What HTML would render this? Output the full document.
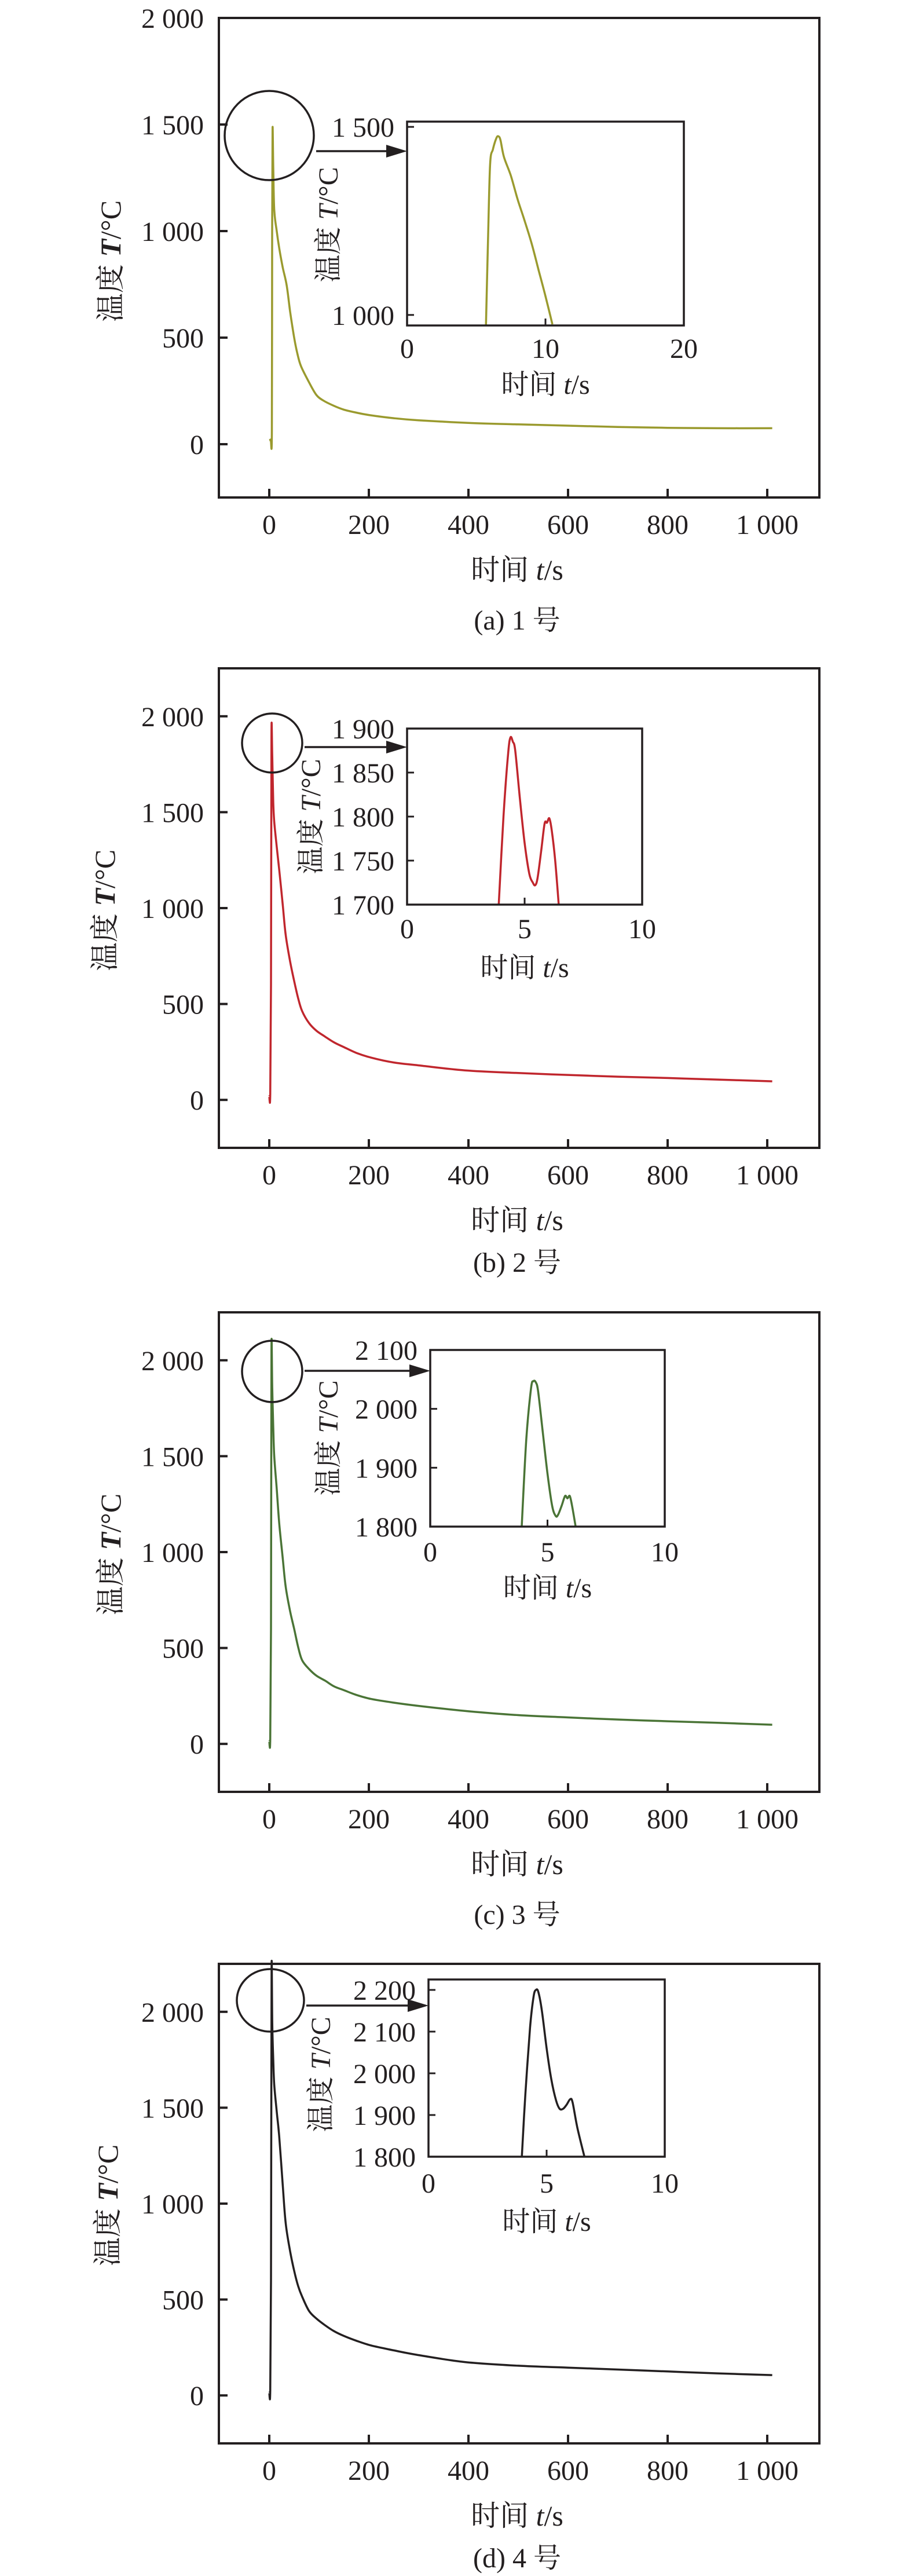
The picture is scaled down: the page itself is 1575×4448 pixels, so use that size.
<!DOCTYPE html>
<html><head><meta charset="utf-8">
<style>
html,body{margin:0;padding:0;background:#fff;}
svg{display:block;}
text{font-family:"Liberation Serif","Noto Serif CJK SC",serif;fill:#231f20;}
</style></head>
<body>
<svg id="fig" width="1575" height="4448" viewBox="0 0 1575 4448" xmlns="http://www.w3.org/2000/svg"></svg>
<script>
// ---------- data ----------
const mainTicksX = [0,200,400,600,800,1000];
const mainTickLabelsX = ["0","200","400","600","800","1 000"];
const mainTicksY = [0,500,1000,1500,2000];
const mainTickLabelsY = ["0","500","1 000","1 500","2 000"];

const aTime = [0,3,5.2,5.8,6.6,8,10,15,20,27,35,42,50,57,64,80,95,110,130,150,175,200,250,300,400,500,600,700,800,900,1010];
const aTemp = [20,22,60,1000,1480,1300,1100,1000,920,830,745,620,500,420,365,290,230,203,180,162,148,137,122,112,100,93,87,81,77,75,75];
const aInsetTime = [5.7,5.85,6.0,6.2,6.45,6.6,6.75,7.0,7.5,8.0,8.5,9.0,9.5,10.0,10.5];
const aInsetTemp = [970,1200,1400,1440,1470,1475,1465,1420,1370,1306,1250,1190,1120,1050,975];
const aInsetTicksX = [0,10,20];
const aInsetTicksY = [1000,1500];
const aInsetTickLabelsY = ["1 000","1 500"];

const bTime = [0,2,3.5,4.4,6,8,10,15,20,27,33,42,50,58,66,80,95,112,130,150,175,205,250,300,393,500,600,700,800,900,1010];
const bTemp = [20,30,600,1890,1790,1550,1450,1320,1200,1020,860,720,620,530,463,400,360,330,300,275,245,220,195,180,154,140,130,121,114,106,97];
const bInsetTime = [3.9,4.1,4.3,4.4,4.5,4.6,4.8,5.0,5.2,5.35,5.45,5.55,5.7,5.85,5.95,6.05,6.15,6.3,6.45];
const bInsetTemp = [1700,1800,1872,1890,1885,1875,1820,1770,1735,1725,1722,1730,1760,1792,1793,1798,1785,1750,1700];
const bInsetTicksX = [0,5,10];
const bInsetTicksY = [1700,1750,1800,1850,1900];
const bInsetTickLabelsY = ["1 700","1 750","1 800","1 850","1 900"];

const cTime = [0,2,3.5,4.4,6,8,10,15,20,27,33,42,50,58,66,80,95,112,130,150,175,205,250,300,400,500,600,700,800,900,1010];
const cTemp = [15,25,600,2045,1850,1650,1500,1330,1150,970,819,690,600,505,436,390,355,330,300,280,255,234,215,198,170,150,138,127,118,110,100];
const cInsetTime = [3.9,4.1,4.3,4.4,4.5,4.6,4.8,5.0,5.2,5.35,5.45,5.6,5.75,5.85,5.95,6.05,6.2];
const cInsetTemp = [1800,1950,2035,2047,2045,2030,1960,1890,1835,1818,1820,1835,1852,1848,1852,1835,1800];
const cInsetTicksX = [0,5,10];
const cInsetTicksY = [1800,1900,2000,2100];
const cInsetTickLabelsY = ["1 800","1 900","2 000","2 100"];

const dTime = [0,2,3.5,4.6,6,8,10,15,20,27,33,42,50,58,66,80,95,112,130,150,175,205,250,300,393,500,600,700,800,900,1010];
const dTemp = [15,25,600,2200,1940,1750,1620,1480,1350,1100,898,750,650,570,515,440,400,366,335,310,285,260,235,210,174,155,145,135,125,115,106];
const dInsetTime = [3.95,4.1,4.3,4.45,4.55,4.65,4.8,5.0,5.2,5.4,5.55,5.7,5.85,6.0,6.1,6.3,6.6];
const dInsetTemp = [1800,1950,2110,2185,2200,2195,2150,2060,1985,1935,1915,1915,1925,1938,1930,1870,1800];
const dInsetTicksX = [0,5,10];
const dInsetTicksY = [1800,1900,2000,2100,2200];
const dInsetTickLabelsY = ["1 800","1 900","2 000","2 100","2 200"];

// ---------- drawing ----------
const NS = "http://www.w3.org/2000/svg";
const svg = document.getElementById('fig');
function mk(tag, attrs, parent){
  const e = document.createElementNS(NS, tag);
  for (const k in attrs) e.setAttribute(k, attrs[k]);
  (parent||svg).appendChild(e);
  return e;
}
function lin(d0,d1,r0,r1){ return v => r0 + (v-d0)*(r1-r0)/(d1-d0); }
function smoothPath(P){
  let d = 'M'+P[0][0].toFixed(1)+','+P[0][1].toFixed(1);
  for(let i=0;i<P.length-1;i++){
    const p0=P[Math.max(0,i-1)],p1=P[i],p2=P[i+1],p3=P[Math.min(P.length-1,i+2)];
    const c1=[p1[0]+(p2[0]-p0[0])/6,p1[1]+(p2[1]-p0[1])/6];
    const c2=[p2[0]-(p3[0]-p1[0])/6,p2[1]-(p3[1]-p1[1])/6];
    d+=' C'+c1[0].toFixed(1)+','+c1[1].toFixed(1)+' '+c2[0].toFixed(1)+','+c2[1].toFixed(1)+' '+p2[0].toFixed(1)+','+p2[1].toFixed(1);
  }
  return d;
}

function drawPanel(p){
  const g = mk('g',{});
  
  
  const L=378, R=1415, T=p.top, B=p.top+828;
  const sx = lin(0,200,465,637);
  const sy = lin(-250,p.ymax,B,T);
  const frame = mk('rect',{x:L,y:T,width:R-L,height:B-T,fill:'none',stroke:'#231f20','stroke-width':4},g);
  
  
  mainTicksX.forEach((v,i)=>{
    const x = sx(v);
    const tk = mk('line',{x1:x,x2:x,y1:B,y2:B-15,stroke:'#231f20','stroke-width':4},g);
    
    
    const t = mk('text',{x:x,y:B+63,'text-anchor':'middle','font-size':48},g);
    t.textContent = mainTickLabelsX[i];
    
    
  });
  mainTicksY.forEach((v,i)=>{
    const y = sy(v);
    const tk = mk('line',{x1:L,x2:L+15,y1:y,y2:y,stroke:'#231f20','stroke-width':4},g);
    
    
    const t = mk('text',{x:352,y:y+17,'text-anchor':'end','font-size':48},g);
    t.textContent = mainTickLabelsY[i];
    
    
  });
  const xt = mk('text',{x:893,y:B+142,'text-anchor':'middle','font-size':50},g);
  xt.innerHTML = '时间 <tspan font-style="italic">t</tspan>/s';
  
  
  const yt = mk('text',{x:0,y:0,'text-anchor':'middle','font-size':50,transform:`translate(${p.ytx},${p.yty}) rotate(-90)`},g);
  yt.innerHTML = '温度 <tspan font-style="italic" font-weight="bold">T</tspan>/°C';
  
  
  const cap = mk('text',{x:893,y:B+p.capOff,'text-anchor':'middle','font-size':48},g);
  cap.textContent = p.caption;
  
  
  const P = p.time.map((t,i)=>[sx(t),sy(p.temp[i])]);
  const line = mk('path',{d:smoothPath(P),fill:'none',stroke:p.color,'stroke-width':3.5,'stroke-linejoin':'round'},g);
  
  
  const c = mk('ellipse',{cx:p.cx,cy:p.cy,rx:p.rx,ry:p.ry,fill:'none',stroke:'#231f20','stroke-width':3.5},g);
  
  
  const ar = mk('line',{x1:p.cx+p.rx+4,x2:p.iL-34,y1:p.ay,y2:p.ay,stroke:'#231f20','stroke-width':3.5},g);
  
  
  const ah = mk('polygon',{points:`${p.iL},${p.ay} ${p.iL-36},${p.ay-11} ${p.iL-36},${p.ay+11}`,fill:'#231f20'},g);
  
  
  const iL=p.iL,iR=p.iR,iT=p.iT,iB=p.iB;
  const ix = lin(p.ixmin,p.ixmax,iL,iR);
  const iy = lin(p.iymin,p.iymax,iB,iT);
  const IP = p.itime.map((t,i)=>[ix(t),iy(p.itemp[i])]);
  const il = mk('path',{d:smoothPath(IP),fill:'none',stroke:p.color,'stroke-width':3.5,'stroke-linejoin':'round'},g);
  
  
  const ifr = mk('rect',{x:iL,y:iT,width:iR-iL,height:iB-iT,fill:'none',stroke:'#231f20','stroke-width':3.5},g);
  
  
  p.iticksX.forEach(v=>{
    const x = ix(v);
    const tk = mk('line',{x1:x,x2:x,y1:iB,y2:iB-12,stroke:'#231f20','stroke-width':3},g);
    
    
    const t = mk('text',{x:x,y:iB+p.ilabOff,'text-anchor':'middle','font-size':48},g);
    t.textContent = String(v);
    
    
  });
  p.iticksY.forEach((v,i)=>{
    const y = iy(v);
    const tk = mk('line',{x1:iL,x2:iL+12,y1:y,y2:y,stroke:'#231f20','stroke-width':3},g);
    
    
    const t = mk('text',{x:iL-22,y:y+17,'text-anchor':'end','font-size':48},g);
    t.textContent = p.iticksYLab[i];
    
    
  });
  const ixt = mk('text',{x:(iL+iR)/2,y:iB+p.ititOff,'text-anchor':'middle','font-size':48},g);
  ixt.innerHTML = '时间 <tspan font-style="italic">t</tspan>/s';
  
  
  const iyt = mk('text',{x:0,y:0,'text-anchor':'middle','font-size':48,transform:`translate(${p.iytx},${p.iyty}) rotate(-90)`},g);
  iyt.innerHTML = '温度 <tspan font-style="italic">T</tspan>/°C';
  
  
}

drawPanel({id:'a',top:31,ymax:2000,time:aTime,temp:aTemp,color:'#9a9a2e',caption:'(a) 1 号',capOff:228,
  ytx:208,yty:451,cx:465,cy:234,rx:77,ry:77,ay:261,
  iL:703,iR:1181,iT:210,iB:562,ixmin:0,ixmax:20,iymin:972,iymax:1514,
  itime:aInsetTime,itemp:aInsetTemp,iticksX:aInsetTicksX,iticksY:aInsetTicksY,iticksYLab:aInsetTickLabelsY,
  ilabOff:56,ititOff:118,iytx:583,iyty:388});
drawPanel({id:'b',top:1154,ymax:2250,time:bTime,temp:bTemp,color:'#c0262d',caption:'(b) 2 号',capOff:214,
  ytx:198,yty:1572,cx:470,cy:1283,rx:52,ry:51,ay:1290,
  iL:703,iR:1109,iT:1258,iB:1562,ixmin:0,ixmax:10,iymin:1700,iymax:1900,
  itime:bInsetTime,itemp:bInsetTemp,iticksX:bInsetTicksX,iticksY:bInsetTicksY,iticksYLab:bInsetTickLabelsY,
  ilabOff:58,ititOff:125,iytx:553,iyty:1410});
drawPanel({id:'c',top:2266,ymax:2250,time:cTime,temp:cTemp,color:'#4a7436',caption:'(c) 3 号',capOff:228,
  ytx:208,yty:2684,cx:470,cy:2368,rx:52,ry:53,ay:2367,
  iL:743,iR:1148,iT:2331,iB:2636,ixmin:0,ixmax:10,iymin:1800,iymax:2100,
  itime:cInsetTime,itemp:cInsetTemp,iticksX:cInsetTicksX,iticksY:cInsetTicksY,iticksYLab:cInsetTickLabelsY,
  ilabOff:60,ititOff:122,iytx:583,iyty:2483});
drawPanel({id:'d',top:3391,ymax:2250,time:dTime,temp:dTemp,color:'#231f20',caption:'(d) 4 号',capOff:214,
  ytx:203,yty:3808,cx:467,cy:3454,rx:58,ry:54,ay:3463,
  iL:740,iR:1148,iT:3418,iB:3724,ixmin:0,ixmax:10,iymin:1800,iymax:2225,
  itime:dInsetTime,itemp:dInsetTemp,iticksX:dInsetTicksX,iticksY:dInsetTicksY,iticksYLab:dInsetTickLabelsY,
  ilabOff:62,ititOff:128,iytx:570,iyty:3582});
</script>
</body></html>
